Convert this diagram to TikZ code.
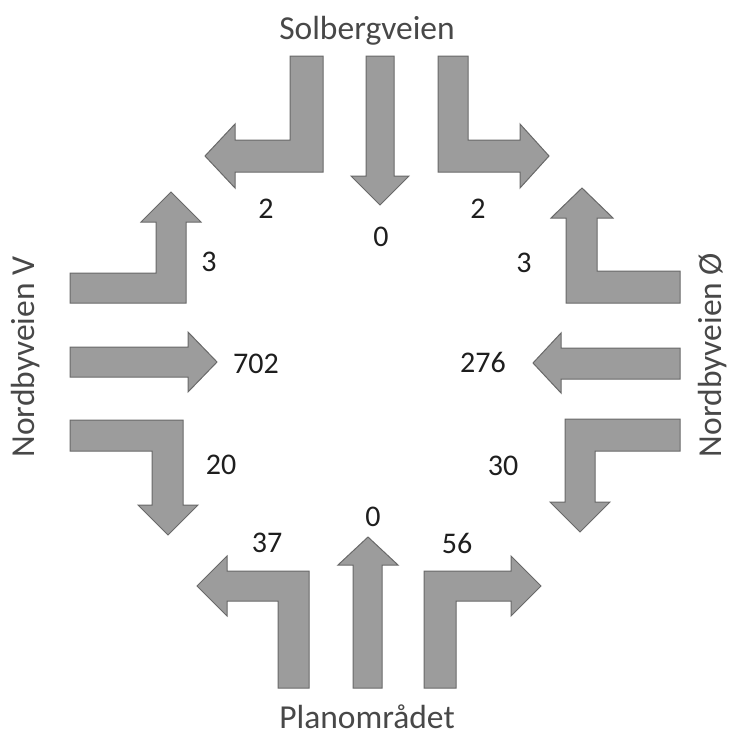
\documentclass[tikz,border=0pt]{standalone}
\usepackage{fontspec}
\setmainfont{Carlito}
\begin{document}
\begin{tikzpicture}[x=1pt,y=-1pt,
  flow/.style={fill=arrowfill,draw=arrowedge,line width=1pt,line join=miter},
  count/.style={font=\fontsize{30}{36}\selectfont,text=countcol,inner sep=0pt},
  road/.style={font=\fontsize{33.5}{40}\selectfont,text=roadcol,inner sep=0pt}]
\definecolor{arrowfill}{RGB}{156,156,156}
\definecolor{arrowedge}{RGB}{105,105,105}
\definecolor{countcol}{RGB}{30,30,30}
\definecolor{roadcol}{RGB}{72,72,72}
\useasboundingbox (0,0) rectangle (733,736);

% --- approach from the north (Solbergveien) ---
\path[flow] (290,56) -- (323,56) -- (323,172) -- (235,172) -- (235,188) -- (205,156)
  -- (235,124) -- (235,140) -- (290,140) -- cycle;
\path[flow] (366,56) -- (394,56) -- (394,176) -- (409,176) -- (380,205) -- (351,176)
  -- (366,176) -- cycle;
\path[flow] (438,56) -- (468,56) -- (468,140) -- (520,140) -- (520,124) -- (549,156)
  -- (520,188) -- (520,172) -- (438,172) -- cycle;

% --- approach from the west (Nordbyveien V) ---
\path[flow] (70,273) -- (156,273) -- (156,222) -- (141,222) -- (171,192) -- (201,222)
  -- (186,222) -- (186,303) -- (70,303) -- cycle;
\path[flow] (70,347) -- (188,347) -- (188,332) -- (217,362) -- (188,392) -- (188,377)
  -- (70,377) -- cycle;
\path[flow] (70,420) -- (183,420) -- (183,505) -- (198,505) -- (168,535) -- (138,505)
  -- (152,505) -- (152,451) -- (70,451) -- cycle;

% --- approach from the east (Nordbyveien Ø) ---
\path[flow] (680,271) -- (680,303) -- (566,303) -- (566,218) -- (551,218) -- (582,188)
  -- (613,218) -- (597,218) -- (597,271) -- cycle;
\path[flow] (680,348) -- (680,379) -- (561,379) -- (561,393) -- (533,363) -- (561,333)
  -- (561,348) -- cycle;
\path[flow] (680,419) -- (680,451) -- (595,451) -- (595,502) -- (610,502) -- (580,532)
  -- (550,502) -- (565,502) -- (565,419) -- cycle;

% --- approach from the south (Planområdet) ---
\path[flow] (309,688) -- (278,688) -- (278,601) -- (227,601) -- (227,616) -- (197,586)
  -- (227,556) -- (227,571) -- (309,571) -- cycle;
\path[flow] (353,688) -- (382,688) -- (382,565) -- (398,565) -- (368,537) -- (338,565)
  -- (353,565) -- cycle;
\path[flow] (424,688) -- (456,688) -- (456,601) -- (511,601) -- (511,616) -- (541,586)
  -- (511,556) -- (511,571) -- (424,571) -- cycle;

% --- traffic counts ---
\node[count] (nl) at (266,209) {2};
\node[count] (nt) at (381,237) {0};
\node[count] (nr) at (478,209) {2};
\node[count] (wl) at (209,262) {3};
\node[count] (wt) at (256,364) {702};
\node[count] (wr) at (221,465) {20};
\node[count] (er) at (524,263) {3};
\node[count] (et) at (483,362) {276};
\node[count] (el) at (503,466) {30};
\node[count] (sl) at (267,543) {37};
\node[count] (st) at (373,517) {0};
\node[count] (sr) at (457,543) {56};

% --- road names ---
\node[road,anchor=base] (north) at (367,39) {Solbergveien};
\node[road,anchor=base] (south) at (367,728) {Planområdet};
\node[road,anchor=base,rotate=90] (west) at (34,357) {Nordbyveien V};
\node[road,anchor=base,rotate=90] (east) at (721,355) {Nordbyveien Ø};
\end{tikzpicture}
\end{document}
